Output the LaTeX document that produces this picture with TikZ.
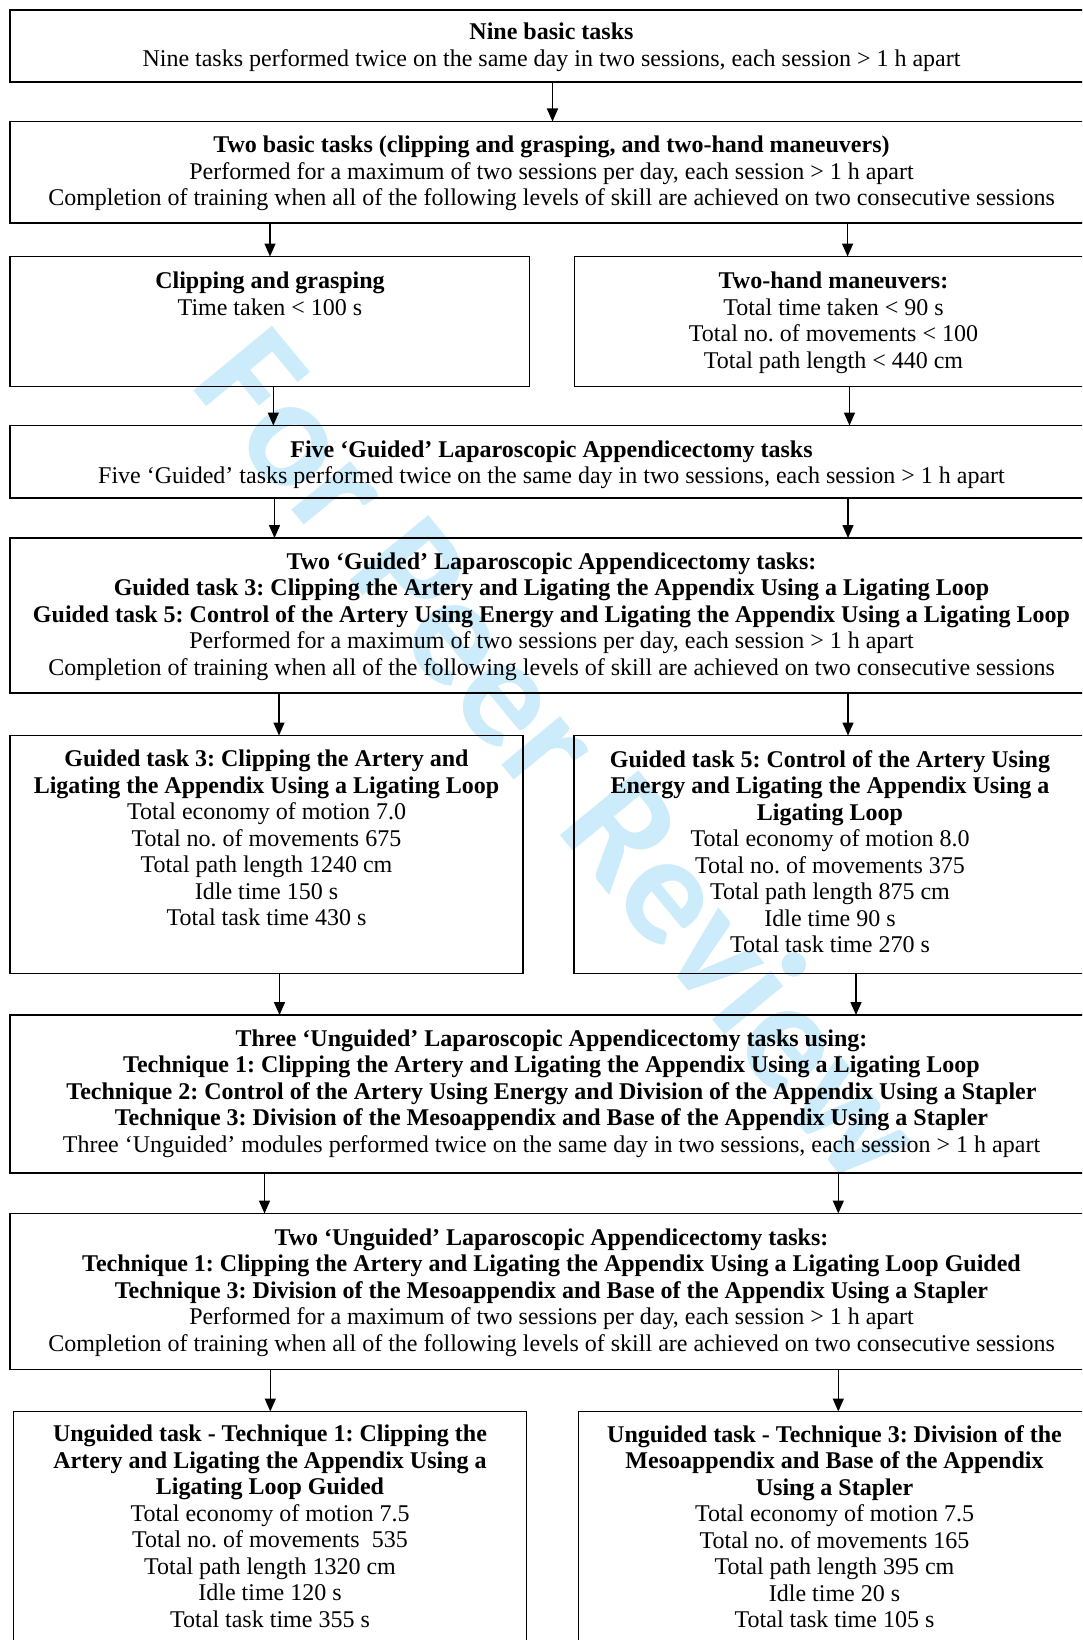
\documentclass[tikz,border=0pt]{standalone}
\usepackage{fontspec}
\setmainfont{Liberation Serif}
\newfontfamily\wmfont{Carlito}
\usetikzlibrary{arrows.meta}
\definecolor{wmcol}{RGB}{204,236,252}
\frenchspacing
\begin{document}
\begin{tikzpicture}[x=1pt,y=-1pt,
  box/.style={draw, line width=1.5pt, inner sep=0pt, outer sep=0pt, anchor=north west},
  txt/.style={align=center, inner sep=0pt, anchor=north, font=\fontsize{24}{26.5}\selectfont\frenchspacing},
  arr/.style={line width=1.5pt, -{Triangle[length=13pt,width=11pt]}},
  wm/.style={text=wmcol, inner sep=0pt, anchor=base west, rotate=-50.5, font=\wmfont\bfseries\fontsize{157}{157}\selectfont}]
\useasboundingbox (0,0) rectangle (1082,1640);
\clip (0,0) rectangle (1082,1640);
\fill[white] (0,0) rectangle (1082,1640);
% watermark
\node[wm] (wmk) at (188,384) {For Peer Review};
% boxes
\node[box, minimum width=1083pt, minimum height=72pt]  (b1)  at (10,10) {};
\node[box, minimum width=1083pt, minimum height=101.5pt] (b2) at (10,121.5) {};
\node[box, minimum width=519.5pt, minimum height=130pt] (b3l) at (10,256.5) {};
\node[box, minimum width=515.5pt, minimum height=130pt] (b3r) at (574.5,256.5) {};
\node[box, minimum width=1083pt, minimum height=72.5pt] (b4) at (10,425.5) {};
\node[box, minimum width=1083pt, minimum height=155pt] (b5) at (10,538) {};
\node[box, minimum width=513pt, minimum height=238pt] (b6l) at (10,735.5) {};
\node[box, minimum width=516pt, minimum height=238pt] (b6r) at (574,735.5) {};
\node[box, minimum width=1083pt, minimum height=158pt] (b7) at (10,1015) {};
\node[box, minimum width=1083pt, minimum height=156pt] (b8) at (10,1213.5) {};
\node[box, minimum width=513pt, minimum height=260pt] (b9l) at (13.5,1411.5) {};
\node[box, minimum width=512pt, minimum height=260pt] (b9r) at (578.5,1411.5) {};
% texts
\node[txt] (t1) at (551.5,23) {\textbf{Nine basic tasks}\\Nine tasks performed twice on the same day in two sessions, each session > 1 h apart};
\node[txt] (t2) at (551.5,135.8) {\textbf{Two basic tasks (clipping and grasping, and two-hand maneuvers)}\\Performed for a maximum of two sessions per day, each session > 1 h apart\\Completion of training when all of the following levels of skill are achieved on two consecutive sessions};
\node[txt] (t3l) at (270,271.8) {\textbf{Clipping and grasping}\\Time taken < 100 s};
\node[txt] (t3r) at (833.5,271.8) {\textbf{Two-hand maneuvers:}\\Total time taken < 90 s\\Total no. of movements < 100\\Total path length < 440 cm};
\node[txt] (t4) at (551.5,440.3) {\textbf{Five ‘Guided’ Laparoscopic Appendicectomy tasks}\\Five ‘Guided’ tasks performed twice on the same day in two sessions, each session > 1 h apart};
\node[txt] (t5) at (551.5,552.3) {\textbf{Two ‘Guided’ Laparoscopic Appendicectomy tasks:}\\\textbf{Guided task 3: Clipping the Artery and Ligating the Appendix Using a Ligating Loop}\\\textbf{Guided task 5: Control of the Artery Using Energy and Ligating the Appendix Using a Ligating Loop}\\Performed for a maximum of two sessions per day, each session > 1 h apart\\Completion of training when all of the following levels of skill are achieved on two consecutive sessions};
\node[txt] (t6l) at (266.5,750) {\textbf{Guided task 3: Clipping the Artery and}\\\textbf{Ligating the Appendix Using a Ligating Loop}\\Total economy of motion 7.0\\Total no. of movements 675\\Total path length 1240 cm\\Idle time 150 s\\Total task time 430 s};
\node[txt] (t6r) at (830,750) {\textbf{Guided task 5: Control of the Artery Using}\\\textbf{Energy and Ligating the Appendix Using a}\\\textbf{Ligating Loop}\\Total economy of motion 8.0\\Total no. of movements 375\\Total path length 875 cm\\Idle time 90 s\\Total task time 270 s};
\node[txt] (t7) at (551.5,1029.3) {\textbf{Three ‘Unguided’ Laparoscopic Appendicectomy tasks using:}\\\textbf{Technique 1: Clipping the Artery and Ligating the Appendix Using a Ligating Loop}\\\textbf{Technique 2: Control of the Artery Using Energy and Division of the Appendix Using a Stapler}\\\textbf{Technique 3: Division of the Mesoappendix and Base of the Appendix Using a Stapler}\\Three ‘Unguided’ modules performed twice on the same day in two sessions, each session > 1 h apart};
\node[txt] (t8) at (551.5,1228.3) {\textbf{Two ‘Unguided’ Laparoscopic Appendicectomy tasks:}\\\textbf{Technique 1: Clipping the Artery and Ligating the Appendix Using a Ligating Loop Guided}\\\textbf{Technique 3: Division of the Mesoappendix and Base of the Appendix Using a Stapler}\\Performed for a maximum of two sessions per day, each session > 1 h apart\\Completion of training when all of the following levels of skill are achieved on two consecutive sessions};
\node[txt] (t9l) at (270,1425) {\textbf{Unguided task - Technique 1: Clipping the}\\\textbf{Artery and Ligating the Appendix Using a}\\\textbf{Ligating Loop Guided}\\Total economy of motion 7.5\\Total no. of movements\ \ 535\\Total path length 1320 cm\\Idle time 120 s\\Total task time 355 s};
\node[txt] (t9r) at (834.5,1425) {\textbf{Unguided task - Technique 3: Division of the}\\\textbf{Mesoappendix and Base of the Appendix}\\\textbf{Using a Stapler}\\Total economy of motion 7.5\\Total no. of movements 165\\Total path length 395 cm\\Idle time 20 s\\Total task time 105 s};
% arrows
\draw[arr] (b1.south -| 552.5,0) -- (b2.north -| 552.5,0);
\draw[arr] (b2.south -| 270,0) -- (b3l.north -| 270,0);
\draw[arr] (b2.south -| 847.6,0) -- (b3r.north -| 847.6,0);
\draw[arr] (b3l.south -| 273.3,0) -- (b4.north -| 273.3,0);
\draw[arr] (b3r.south -| 849.5,0) -- (b4.north -| 849.5,0);
\draw[arr] (b4.south -| 274.5,0) -- (b5.north -| 274.5,0);
\draw[arr] (b4.south -| 848,0) -- (b5.north -| 848,0);
\draw[arr] (b5.south -| 279,0) -- (b6l.north -| 279,0);
\draw[arr] (b5.south -| 848,0) -- (b6r.north -| 848,0);
\draw[arr] (b6l.south -| 279.5,0) -- (b7.north -| 279.5,0);
\draw[arr] (b6r.south -| 856,0) -- (b7.north -| 856,0);
\draw[arr] (b7.south -| 264.5,0) -- (b8.north -| 264.5,0);
\draw[arr] (b7.south -| 838.3,0) -- (b8.north -| 838.3,0);
\draw[arr] (b8.south -| 270.3,0) -- (b9l.north -| 270.3,0);
\draw[arr] (b8.south -| 838.3,0) -- (b9r.north -| 838.3,0);
\end{tikzpicture}
\end{document}
